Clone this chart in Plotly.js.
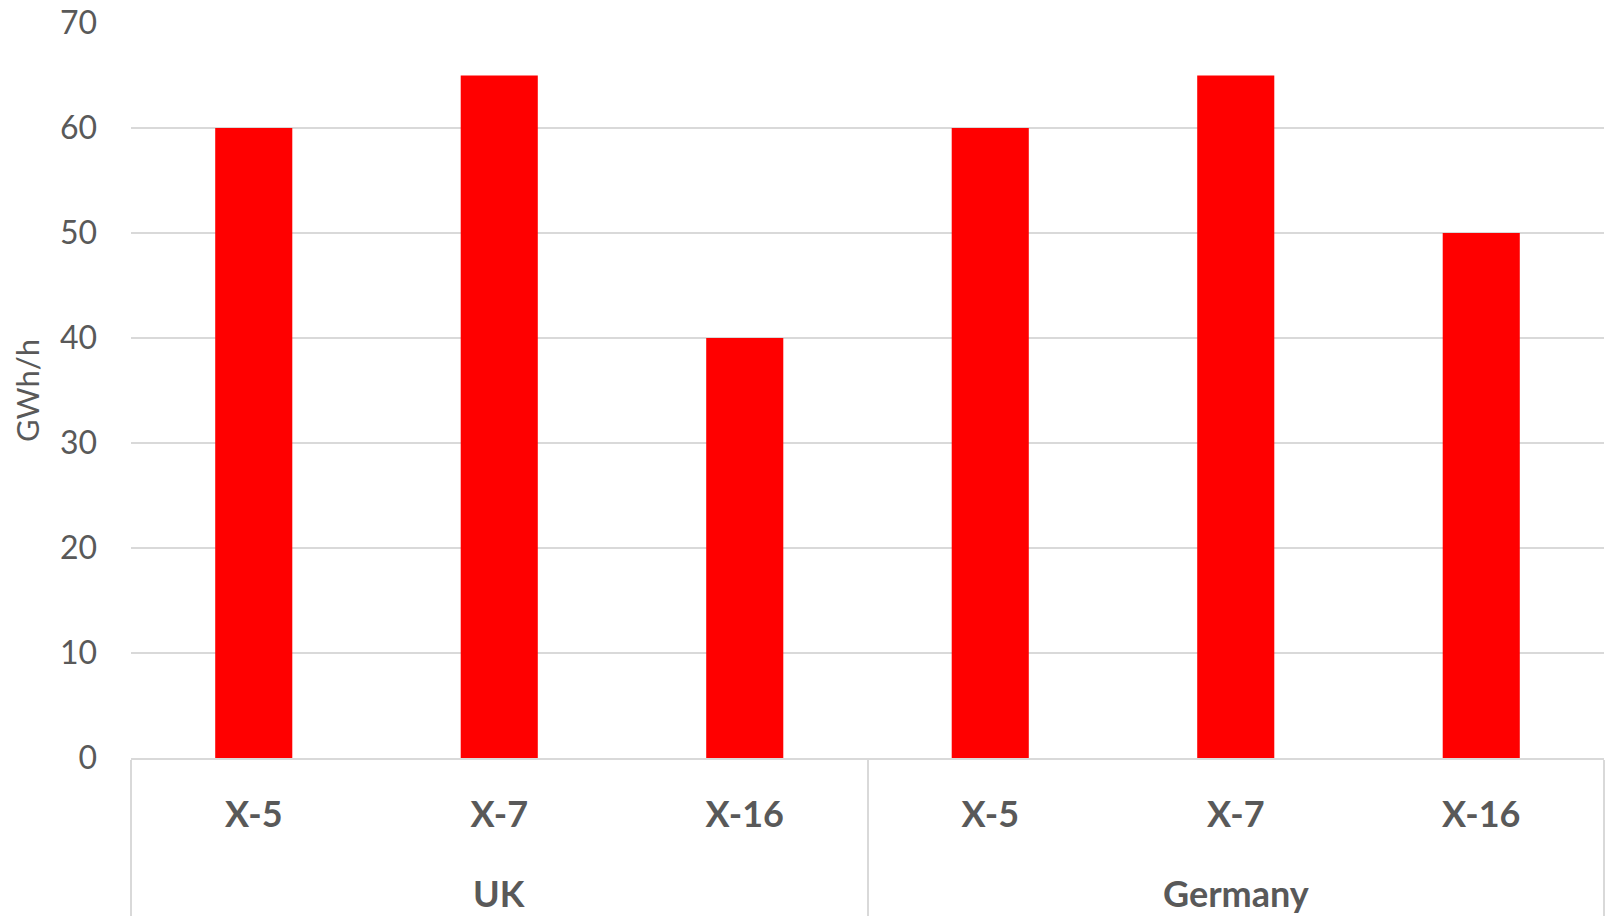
<!DOCTYPE html>
<html>
<head>
<meta charset="utf-8">
<script src="https://cdn.plot.ly/plotly-3.0.1.min.js"></script>
<style>
  html, body { margin: 0; padding: 0; background: #ffffff; }
  #chart { width: 1605px; height: 916px; }
</style>
</head>
<body>
<div id="chart"></div>
<script>
// Capacity per interconnector, grouped by country
const countries = ["UK", "UK", "UK", "Germany", "Germany", "Germany"];
const links = ["X-5", "X-7", "X-16", "X-5", "X-7", "X-16"];
const capacity = [60, 65, 40, 60, 65, 50];
const yTicks = [0, 10, 20, 30, 40, 50, 60, 70];

const grey = "#595959";
const lineGrey = "#d9d9d9";
const fontFamily = "Lato, 'Open Sans', sans-serif";

// one slot per bar along a numeric axis, labelled with the link name
const slots = links.map((_, i) => i);

// country groups: their centre slot and the boundaries between them
const groups = [];
countries.forEach((c, i) => {
  const last = groups[groups.length - 1];
  if (last && last.name === c) { last.end = i; }
  else { groups.push({ name: c, start: i, end: i }); }
});
const boundaries = [groups[0].start - 0.5].concat(groups.map(g => g.end + 0.5));

const trace = {
  type: "bar",
  x: slots,
  y: capacity,
  marker: { color: "#ff0000", line: { width: 0 } },
  hoverinfo: "y"
};

const groupLabels = groups.map(g => ({
  text: g.name,
  xref: "x",
  x: (g.start + g.end) / 2,
  yref: "paper",
  y: 0,
  yanchor: "middle",
  yshift: -135,
  showarrow: false,
  font: { family: fontFamily, size: 36, color: grey, weight: "bold" }
}));

const layout = {
  width: 1605,
  height: 916,
  margin: { l: 131, r: 1, t: 23, b: 158 },
  paper_bgcolor: "#ffffff",
  plot_bgcolor: "#ffffff",
  bargap: 0.686,
  showlegend: false,
  font: { family: fontFamily, color: grey },
  xaxis: {
    range: [slots[0] - 0.5, slots[slots.length - 1] + 0.5],
    tickmode: "array",
    tickvals: slots,
    ticktext: links,
    showline: true,
    linecolor: lineGrey,
    linewidth: 2,
    showgrid: false,
    zeroline: false,
    ticks: "",
    ticklabelstandoff: 24,
    tickfont: { family: fontFamily, size: 36, color: grey, weight: "bold" },
    // group dividers drawn as long minor ticks at the country boundaries
    minor: {
      tickmode: "array",
      tickvals: boundaries,
      ticks: "outside",
      ticklen: 170,
      tickwidth: 2,
      tickcolor: lineGrey,
      showgrid: false
    },
    automargin: false
  },
  yaxis: {
    range: [0, 70],
    tickvals: yTicks,
    showgrid: true,
    gridcolor: lineGrey,
    gridwidth: 2,
    zeroline: false,
    showline: false,
    ticks: "",
    ticklabelstandoff: 33,
    tickfont: { family: fontFamily, size: 32, color: grey },
    title: { text: "GWh/h", font: { family: fontFamily, size: 31, color: grey }, standoff: 11 },
    automargin: false
  },
  annotations: groupLabels
};

Plotly.newPlot("chart", [trace], layout, { displayModeBar: false, staticPlot: true });
</script>
</body>
</html>
